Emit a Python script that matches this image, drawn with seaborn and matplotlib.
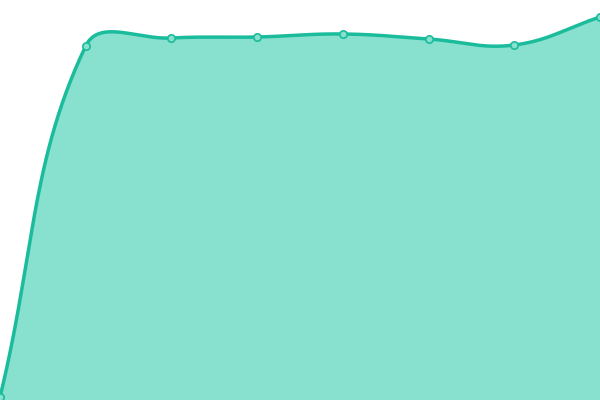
import numpy as np
import pandas as pd
import matplotlib
matplotlib.use("Agg")
import matplotlib.pyplot as plt
import seaborn as sns

categories = [0, 1, 2, 3, 4, 5, 6, 7]
values = [3, 354, 362, 363, 366, 361, 355, 383]

LINE = "#1ABC9C"
FILL = "#88E0CE"

sns.set_theme(style="white")

fig = plt.figure(figsize=(6, 4), dpi=100)
ax = fig.add_axes([0, 0, 1, 1])
ax.set_xlim(0, 7)
ax.set_ylim(0, 400)
ax.axis("off")

# Chart.js-style bezier spline (tension 0.4) computed in pixel space
xs = np.array(categories, dtype=float)
ys = np.array(values, dtype=float)
px = xs * (600 / 7)
py = ys
t = 0.4
n = len(px)
cps = []
for i in range(n):
    p0 = (px[max(i - 1, 0)], py[max(i - 1, 0)])
    p1 = (px[i], py[i])
    p2 = (px[min(i + 1, n - 1)], py[min(i + 1, n - 1)])
    d01 = np.hypot(p1[0] - p0[0], p1[1] - p0[1])
    d12 = np.hypot(p2[0] - p1[0], p2[1] - p1[1])
    s01 = d01 / (d01 + d12) if d01 + d12 else 0
    s12 = d12 / (d01 + d12) if d01 + d12 else 0
    fa, fb = t * s01, t * s12
    c1 = (p1[0] - fa * (p2[0] - p0[0]), p1[1] - fa * (p2[1] - p0[1]))
    c2 = (p1[0] + fb * (p2[0] - p0[0]), p1[1] + fb * (p2[1] - p0[1]))
    cps.append((c1, c2))

cx, cy = [], []
tt = np.linspace(0, 1, 60)
for i in range(n - 1):
    P0 = np.array([px[i], py[i]])
    P1 = np.array(cps[i][1])
    P2 = np.array(cps[i + 1][0])
    P3 = np.array([px[i + 1], py[i + 1]])
    B = ((1 - tt) ** 3)[:, None] * P0 + (3 * (1 - tt) ** 2 * tt)[:, None] * P1 \
        + (3 * (1 - tt) * tt ** 2)[:, None] * P2 + (tt ** 3)[:, None] * P3
    cx.extend(B[:, 0] / (600 / 7))
    cy.extend(B[:, 1])

curve = pd.DataFrame({"x": cx, "y": cy})
ax.fill_between(curve["x"], 0, curve["y"], color=FILL, linewidth=0, zorder=1)
sns.lineplot(data=curve, x="x", y="y", ax=ax, color=LINE, linewidth=2.5,
             sort=False, estimator=None, zorder=2)

df = pd.DataFrame({"x": categories, "y": values})
sns.scatterplot(data=df, x="x", y="y", ax=ax, s=28, color=FILL,
                edgecolor=LINE, linewidth=1.2, zorder=3, clip_on=False)

ax.set_xlim(0, 7)
ax.set_ylim(0, 400)
ax.axis("off")
fig.savefig("out.png", dpi=100)
